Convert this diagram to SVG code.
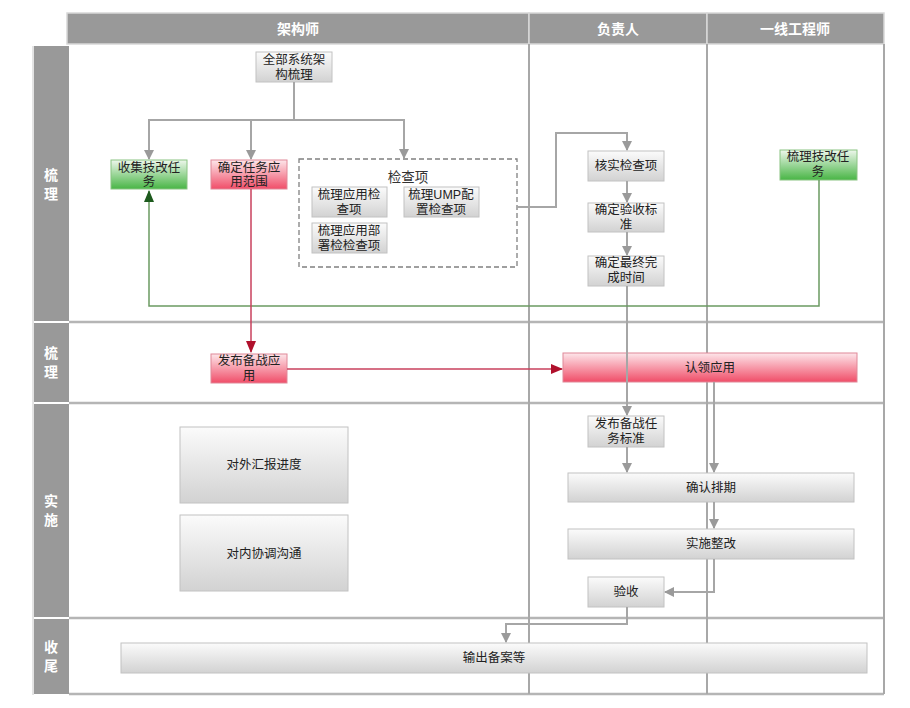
<svg xmlns="http://www.w3.org/2000/svg" width="910" height="708" viewBox="0 0 910 708">
<defs>
<linearGradient id="gGray" x1="0" y1="0" x2="0" y2="1"><stop offset="0" stop-color="#fbfbfb"/><stop offset="1" stop-color="#d2d2d2"/></linearGradient>
<linearGradient id="gGreen" x1="0" y1="0" x2="0" y2="1"><stop offset="0" stop-color="#eef7ec"/><stop offset="1" stop-color="#48b545"/></linearGradient>
<linearGradient id="gRed" x1="0" y1="0" x2="0" y2="1"><stop offset="0" stop-color="#fde6ea"/><stop offset="1" stop-color="#f04d68"/></linearGradient>
<marker id="aGray" markerWidth="10" markerHeight="10" refX="9" refY="5" orient="auto" markerUnits="userSpaceOnUse"><path d="M0,0 L10,5 L0,10 z" fill="#9a9a9a"/></marker>
<marker id="aRed" markerWidth="12" markerHeight="10" refX="11" refY="5" orient="auto" markerUnits="userSpaceOnUse"><path d="M0,0 L12,5 L0,10 z" fill="#b0102c"/></marker>
<marker id="aGreen" markerWidth="12" markerHeight="10" refX="11" refY="5" orient="auto" markerUnits="userSpaceOnUse"><path d="M0,0 L12,5 L0,10 z" fill="#1d5a1d"/></marker>
</defs>
<style>
text{font-family:"Liberation Sans","Noto Sans CJK SC",sans-serif;}
.hd{fill:#999999;stroke:#d8d8d8;stroke-width:1.5;}
.hdt{fill:#ffffff;font-size:14px;font-weight:bold;text-anchor:middle;}
.lane{fill:#999999;}
.lt{fill:#ffffff;font-size:14px;font-weight:bold;text-anchor:middle;}
.sep{stroke:#b5b5b5;stroke-width:2.5;fill:none;}
.vsep{stroke:#a8a8a8;stroke-width:2;fill:none;}
.ng{fill:url(#gGray);stroke:#c2c2c2;stroke-width:1;}
.ngr{fill:url(#gGreen);stroke:#8ac482;stroke-width:1;}
.nr{fill:url(#gRed);stroke:#e08898;stroke-width:1;}
.t{fill:#222222;font-size:12.5px;text-anchor:middle;}
.cg{stroke:#a6a6a6;stroke-width:2;fill:none;}
.cr{stroke:#c8405c;stroke-width:1.5;fill:none;}
.cgr{stroke:#6b9a62;stroke-width:1.5;fill:none;}
</style>
<rect x="0" y="0" width="910" height="708" fill="#ffffff"/>

<g id="frame">
<rect class="hd" x="67" y="13" width="462" height="31"/>
<rect class="hd" x="529" y="13" width="178" height="31"/>
<rect class="hd" x="707" y="13" width="177" height="31"/>
<text class="hdt" x="298" y="34">架构师</text>
<text class="hdt" x="618" y="34">负责人</text>
<text class="hdt" x="795" y="34">一线工程师</text>
<rect class="lane" x="34" y="46" width="35" height="275"/>
<rect class="lane" x="34" y="323" width="35" height="79"/>
<rect class="lane" x="34" y="404" width="35" height="213"/>
<rect class="lane" x="34" y="619" width="35" height="75"/>
<line x1="33" y1="46" x2="33" y2="695" stroke="#c8c8c8" stroke-width="1"/>
<text class="lt" x="51" y="180">梳</text><text class="lt" x="51" y="199">理</text>
<text class="lt" x="51" y="358">梳</text><text class="lt" x="51" y="377">理</text>
<text class="lt" x="51" y="506">实</text><text class="lt" x="51" y="525">施</text>
<text class="lt" x="51" y="652">收</text><text class="lt" x="51" y="671">尾</text>
<line class="sep" x1="69" y1="322" x2="884" y2="322"/>
<line class="sep" x1="69" y1="403" x2="884" y2="403"/>
<line class="sep" x1="69" y1="618" x2="884" y2="618"/>
<line class="sep" x1="69" y1="694" x2="884" y2="694"/>
<line class="vsep" x1="529" y1="44" x2="529" y2="694"/>
<line class="vsep" x1="707" y1="44" x2="707" y2="694"/>
<line class="vsep" x1="884" y1="44" x2="884" y2="694"/>
</g>

<g id="n_all"><rect class="ng" x="256" y="52" width="76" height="30"/><text class="t" x="294" y="64">全部系统架</text><text class="t" x="294" y="79">构梳理</text></g>
<g id="n_collect"><rect class="ngr" x="111" y="160" width="76" height="29"/><text class="t" x="149" y="172">收集技改任</text><text class="t" x="149" y="186">务</text></g>
<g id="n_scope"><rect class="nr" x="211" y="160" width="76" height="29"/><text class="t" x="249" y="172">确定任务应</text><text class="t" x="249" y="186">用范围</text></g>
<g id="n_check">
<rect x="299" y="159" width="218" height="108" fill="none" stroke="#808080" stroke-width="1.3" stroke-dasharray="5,3"/>
<text x="408" y="182" fill="#333" font-size="13.5" text-anchor="middle">检查项</text>
</g>
<g id="n_c1"><rect class="ng" x="312" y="187" width="75" height="30"/><text class="t" x="349" y="199">梳理应用检</text><text class="t" x="349" y="214">查项</text></g>
<g id="n_c2"><rect class="ng" x="404" y="187" width="75" height="30"/><text class="t" x="441" y="199">梳理UMP配</text><text class="t" x="441" y="214">置检查项</text></g>
<g id="n_c3"><rect class="ng" x="312" y="223" width="75" height="30"/><text class="t" x="349" y="235">梳理应用部</text><text class="t" x="349" y="250">署检检查项</text></g>
<g id="n_verify"><rect class="ng" x="588" y="151" width="76" height="30"/><text class="t" x="626" y="170">核实检查项</text></g>
<g id="n_std"><rect class="ng" x="588" y="203" width="76" height="29"/><text class="t" x="626" y="214">确定验收标</text><text class="t" x="626" y="229">准</text></g>
<g id="n_time"><rect class="ng" x="588" y="256" width="76" height="30"/><text class="t" x="626" y="267">确定最终完</text><text class="t" x="626" y="282">成时间</text></g>
<g id="n_sort"><rect class="ngr" x="780" y="150" width="77" height="30"/><text class="t" x="818" y="161">梳理技改任</text><text class="t" x="818" y="176">务</text></g>
<g id="n_publish"><rect class="nr" x="211" y="354" width="76" height="29"/><text class="t" x="249" y="365">发布备战应</text><text class="t" x="249" y="380">用</text></g>
<g id="n_claim"><rect class="nr" x="563" y="353" width="294" height="29"/><text class="t" x="710" y="372">认领应用</text></g>
<g id="n_pubstd"><rect class="ng" x="588" y="416" width="76" height="31"/><text class="t" x="626" y="428">发布备战任</text><text class="t" x="626" y="443">务标准</text></g>
<g id="n_sched"><rect class="ng" x="568" y="473" width="286" height="29"/><text class="t" x="711" y="492">确认排期</text></g>
<g id="n_impl"><rect class="ng" x="568" y="529" width="286" height="30"/><text class="t" x="711" y="548">实施整改</text></g>
<g id="n_accept"><rect class="ng" x="588" y="577" width="76" height="30"/><text class="t" x="626" y="596">验收</text></g>
<g id="n_report"><rect class="ng" x="180" y="427" width="168" height="76"/><text class="t" x="264" y="469">对外汇报进度</text></g>
<g id="n_coord"><rect class="ng" x="180" y="515" width="168" height="76"/><text class="t" x="264" y="558">对内协调沟通</text></g>
<g id="n_output"><rect class="ng" x="121" y="643" width="746" height="30"/><text class="t" x="494" y="662">输出备案等</text></g>

<g id="connectors">
<path class="cg" d="M294,82 V120 H149 V159" marker-end="url(#aGray)"/>
<path class="cg" d="M251,120 V159" marker-end="url(#aGray)"/>
<path class="cg" d="M294,120 H404 V158" marker-end="url(#aGray)"/>
<path class="cg" d="M517,207 H556 V133 H627 V150" marker-end="url(#aGray)"/>
<path class="cg" d="M627,181 V202" marker-end="url(#aGray)"/>
<path class="cg" d="M627,232 V255" marker-end="url(#aGray)"/>
<path class="cg" d="M627,286 V415" marker-end="url(#aGray)"/>
<path class="cg" d="M627,447 V472" marker-end="url(#aGray)"/>
<path class="cg" d="M714,382 V472" marker-end="url(#aGray)"/>
<path class="cg" d="M714,502 V528" marker-end="url(#aGray)"/>
<path class="cg" d="M714,559 V592 H665" marker-end="url(#aGray)"/>
<path class="cg" d="M627,607 V624 H506 V642" marker-end="url(#aGray)"/>
<path class="cgr" d="M819,180 V306 H149 V191" marker-end="url(#aGreen)"/>
<path class="cr" d="M251,189 V352" marker-end="url(#aRed)"/>
<path class="cr" d="M287,369 H562" marker-end="url(#aRed)"/>
</g>
</svg>
